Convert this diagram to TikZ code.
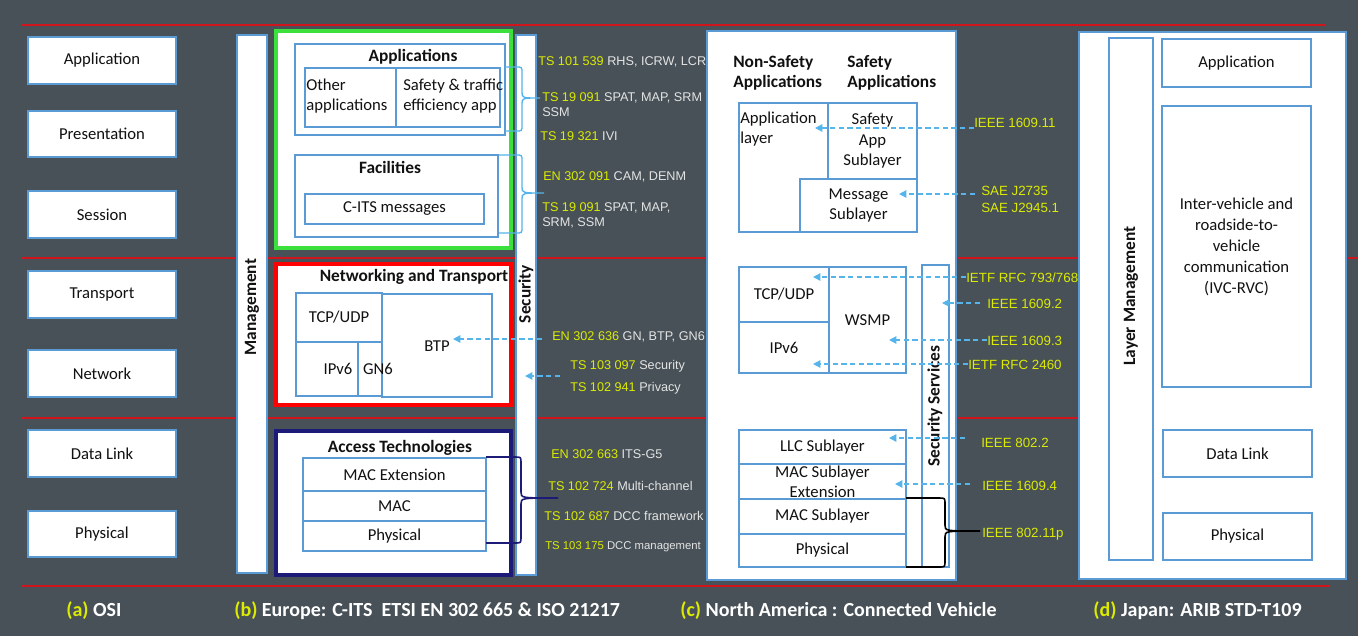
\documentclass[tikz,border=0pt]{standalone}
\usepackage{fontspec}
\setmainfont{Carlito}
\newfontfamily\lblfont{Liberation Sans}
\usetikzlibrary{arrows.meta}
\definecolor{bg}{HTML}{475157}
\definecolor{bord}{HTML}{5B9BD5}
\definecolor{ylw}{HTML}{DCEB00}
\definecolor{lgray}{HTML}{E4E4E4}
\definecolor{arrc}{HTML}{55B4EA}
\definecolor{redl}{HTML}{D0141C}
\definecolor{grn}{HTML}{3CE03C}
\definecolor{navyb}{HTML}{1C1C78}
\definecolor{txt}{HTML}{111111}
\newcommand{\ylab}[2]{{\color{ylw}#1}\ #2}
\newcommand{\curlyb}[7]{%
\draw[#1] (#2,#3) -- ({#4-6},#3) .. controls (#4,#3) .. (#4,{#3+6}) -- (#4,{#6-6}) .. controls (#4,#6) .. (#5,#6) .. controls (#4,#6) .. (#4,{#6+6}) -- (#4,{#7-6}) .. controls (#4,#7) .. ({#4-6},#7) -- (#2,#7);}
\newcommand{\rbox}[7][]{\node[box,minimum width={(#5-#3)*0.75pt},minimum height={(#6-#4)*0.75pt},#1] (#2) at ({(#3+#5)/2},{(#4+#6)/2}) {#7};}
\tikzset{
  box/.style={draw=bord, fill=white, line width=1pt, inner sep=0pt, text=txt,
    font=\fontsize{12.5}{15}\selectfont, align=center},
  btxt/.style={inner sep=0pt, text=txt, font=\fontsize{12.5}{15}\selectfont},
  ttl/.style={inner sep=0pt, text=txt, font=\bfseries\fontsize{13}{15}\selectfont},
  vttl/.style={inner sep=0pt, text=txt, rotate=90, font=\bfseries\fontsize{13}{15}\selectfont},
  eulab/.style={inner sep=0pt, anchor=west, align=left, text=lgray, font=\lblfont\fontsize{9.5}{11.25}\selectfont},
  nalab/.style={inner sep=0pt, anchor=west, align=left, text=ylw, font=\lblfont\fontsize{10}{12.75}\selectfont},
  darr/.style={draw=arrc, line width=1pt, dash pattern=on 4pt off 2.5pt, -{Triangle[length=5.5pt,width=5.5pt]}},
  redline/.style={draw=redl, line width=1.8pt, dash pattern=on 2pt off 1pt},
  capt/.style={inner sep=0pt, anchor=west, text=white, font=\bfseries\fontsize{15}{17}\selectfont},
}
\begin{document}
\begin{tikzpicture}[x=0.75pt,y=-0.75pt]
\useasboundingbox (0,0) rectangle (1358,636);
\fill[bg] (0,0) rectangle (1358,636);
% separator lines
\draw[redline] (22,25) -- (1325,25);
\draw[redline] (22,258) -- (1358,258);
\draw[redline] (22,418) -- (1330,418);
\draw[redline] (22,586) -- (1330,586);

% (a) OSI
\rbox{osiApp}{28}{37}{176}{84}{Application}
\rbox{osiPre}{28}{111}{176}{157}{Presentation}
\rbox{osiSes}{28}{191}{176}{238}{Session}
\rbox{osiTra}{28}{271}{176}{318}{Transport}
\rbox{osiNet}{28}{350}{176}{397}{Network}
\rbox{osiDL}{28}{430}{176}{477}{Data Link}
\rbox{osiPhy}{28}{511}{176}{557}{Physical}

% (b) Europe
\rbox{mgmt}{237}{35}{267}{573}{}
\node[vttl] (mgmtT) at (252,307) {Management};

\rbox[draw=grn, line width=2.4pt]{green}{276}{31}{511}{248}{}
\rbox{apps}{295}{44}{505}{135}{}
\node[ttl] (appsT) at (413,57) {Applications};
\rbox{oth}{305}{68}{396}{127}{}
\node[btxt, anchor=west, align=left] (othT) at (306,96) {Other\\applications};
\rbox{saf}{396}{68}{500}{127}{}
\node[btxt, anchor=west, align=left] (safT) at (403,96) {Safety \& traffic\\efficiency app};
\rbox{fac}{295}{155}{498}{237}{}
\node[ttl] (facT) at (390,167) {Facilities};
\rbox{cits}{305}{194}{484}{224}{C-ITS messages}

\rbox{sec}{516}{35}{536}{575}{}
\node[vttl] (secT) at (526,294) {Security};

\rbox[draw=red, line width=2.4pt]{redb}{276}{264}{511}{405}{}
\node[ttl] (redT) at (414,277) {Networking and Transport};
\rbox{tcp}{296}{293}{382}{342}{TCP/UDP}
\rbox{ipv}{296}{342}{358}{396}{}
\rbox{gnb}{358}{342}{382}{396}{}
\rbox{btp}{382}{294}{492}{397}{}
\node[btxt] (btpT) at (437,346) {BTP};
\node[btxt] (ipvT) at (338,369) {IPv6};
\node[btxt] (gnT) at (378,369) {GN6};

\rbox[draw=navyb, line width=2.4pt]{navy}{276}{431}{511}{575}{}
\node[ttl] (navyT) at (400,448) {Access Technologies};
\rbox{macx}{303}{458}{486}{491}{MAC Extension}
\rbox{mac}{303}{491}{486}{521}{MAC}
\rbox{phy}{303}{521}{486}{551}{Physical}

% Europe standard labels
\node[eulab] (e1) at (538,62) {\ylab{TS 101 539}{RHS, ICRW, LCR}};
\node[eulab] (e2) at (542,104.5) {\ylab{TS 19 091}{SPAT, MAP, SRM}\\SSM};
\node[eulab] (e3) at (540,136) {\ylab{TS 19 321}{IVI}};
\node[eulab] (e4) at (543,177) {\ylab{EN 302 091}{CAM, DENM}};
\node[eulab] (e5) at (542,215.5) {\ylab{TS 19 091}{SPAT, MAP,}\\SRM, SSM};
\node[eulab] (e6) at (552,337) {\ylab{EN 302 636}{GN, BTP, GN6}};
\node[eulab] (e7) at (570,366) {\ylab{TS 103 097}{Security}};
\node[eulab] (e8) at (570,388) {\ylab{TS 102 941}{Privacy}};
\node[eulab] (e9) at (551,454) {\ylab{EN 302 663}{ITS-G5}};
\node[eulab] (e10) at (548,486) {\ylab{TS 102 724}{Multi-channel}};
\node[eulab] (e11) at (544,516) {\ylab{TS 102 687}{DCC framework}};
\node[eulab, font=\lblfont\fontsize{8.5}{10}\selectfont] (e12) at (545,547) {\ylab{TS 103 175}{DCC management}};

\curlyb{draw=arrc, line width=1pt}{505}{67}{522}{540}{98}{131}
\curlyb{draw=arrc, line width=1pt}{499}{155}{522}{544}{193}{233}
\curlyb{draw=navyb, line width=1.2pt}{486}{457}{521}{558}{498}{543}

\coordinate (s1) at (542,339); \coordinate (t1) at (453,339);
\coordinate (s2) at (560,376); \coordinate (t2) at (525,376);
\draw[darr] (s1) -- (t1);
\draw[darr] (s2) -- (t2);

% (c) North America
\rbox{na}{707}{31}{956}{580}{}
\node[ttl, anchor=west, align=left] (nsT) at (733,73) {Non-Safety\\Applications};
\node[ttl, anchor=west, align=left] (sT) at (847,73) {Safety\\Applications};
\rbox{applay}{739}{103}{828}{232}{}
\node[btxt, anchor=west, align=left] (applayT) at (740,129) {Application\\layer};
\rbox[font=\fontsize{12.5}{15.4}\selectfont]{safapp}{828}{103}{917}{179}{Safety\\App\\Sublayer}
\rbox{msg}{800}{179}{917}{232}{Message\\Sublayer}

\rbox{natcp}{739}{267}{829}{322}{TCP/UDP}
\rbox{naipv}{739}{322}{829}{373}{IPv6}
\rbox{wsmp}{829}{267}{906}{373}{WSMP}
\rbox{secs}{922}{265}{949}{567}{}
\node[vttl] (secsT) at (935,406) {Security Services};
\rbox{llc}{739}{430}{906}{464}{LLC Sublayer}
\rbox{macsx}{739}{464}{906}{499}{MAC Sublayer\\Extension}
\rbox{macs}{739}{499}{906}{534}{MAC Sublayer}
\rbox{naphy}{739}{534}{906}{567}{Physical}

\node[nalab] (n1) at (974,123) {IEEE 1609.11};
\node[nalab] (n2) at (981,199.5) {SAE J2735\\SAE J2945.1};
\node[nalab] (n3) at (966,278) {IETF RFC 793/768};
\node[nalab] (n4) at (987,304) {IEEE 1609.2};
\node[nalab] (n5) at (987,341) {IEEE 1609.3};
\node[nalab] (n6) at (968,365) {IETF RFC 2460};
\node[nalab] (n7) at (981,443) {IEEE 802.2};
\node[nalab] (n8) at (982,486) {IEEE 1609.4};
\node[nalab] (n9) at (982,534) {IEEE 802.11p};

\coordinate (a1s) at (974,128); \coordinate (a1e) at (815,128);
\coordinate (a2s) at (975,194); \coordinate (a2e) at (899,194);
\coordinate (a3s) at (966,277); \coordinate (a3e) at (813,277);
\coordinate (a4s) at (980,303); \coordinate (a4e) at (942,303);
\coordinate (a5s) at (987,340); \coordinate (a5e) at (889,340);
\coordinate (a6s) at (968,364); \coordinate (a6e) at (813,364);
\coordinate (a7s) at (965,438); \coordinate (a7e) at (889,438);
\coordinate (a8s) at (970,484); \coordinate (a8e) at (895,484);
\draw[darr] (a1s) -- (a1e);
\draw[darr] (a2s) -- (a2e);
\draw[darr] (a3s) -- (a3e);
\draw[darr] (a4s) -- (a4e);
\draw[darr] (a5s) -- (a5e);
\draw[darr] (a6s) -- (a6e);
\draw[darr] (a7s) -- (a7e);
\draw[darr] (a8s) -- (a8e);
\curlyb{draw=black, line width=1.2pt}{906}{498}{945}{980}{531}{567}

% (d) Japan
\rbox{jp}{1079}{32}{1346}{579}{}
\rbox{lm}{1109}{38}{1153}{560}{}
\node[vttl] (lmT) at (1131,296) {Layer Management};
\rbox{jApp}{1162}{39}{1311}{87}{Application}
\rbox[font=\fontsize{12.5}{15.75}\selectfont]{jIvc}{1162}{106}{1311}{387}{Inter-vehicle and\\roadside-to-\\vehicle\\communication\\(IVC-RVC)}
\rbox{jDL}{1163}{430}{1312}{477}{Data Link}
\rbox{jPhy}{1163}{513}{1312}{560}{Physical}

% captions
\node[capt] (capA) at (66,611) {{\color{ylw}(a)} OSI};
\node[capt] (capB) at (234,611) {{\color{ylw}(b)} Europe: C-ITS\ \ ETSI EN 302 665 \& ISO 21217};
\node[capt] (capC) at (680,611) {{\color{ylw}(c)} North America : Connected Vehicle};
\node[capt] (capD) at (1093,611) {{\color{ylw}(d)} Japan: ARIB STD-T109};
\end{tikzpicture}
\end{document}
